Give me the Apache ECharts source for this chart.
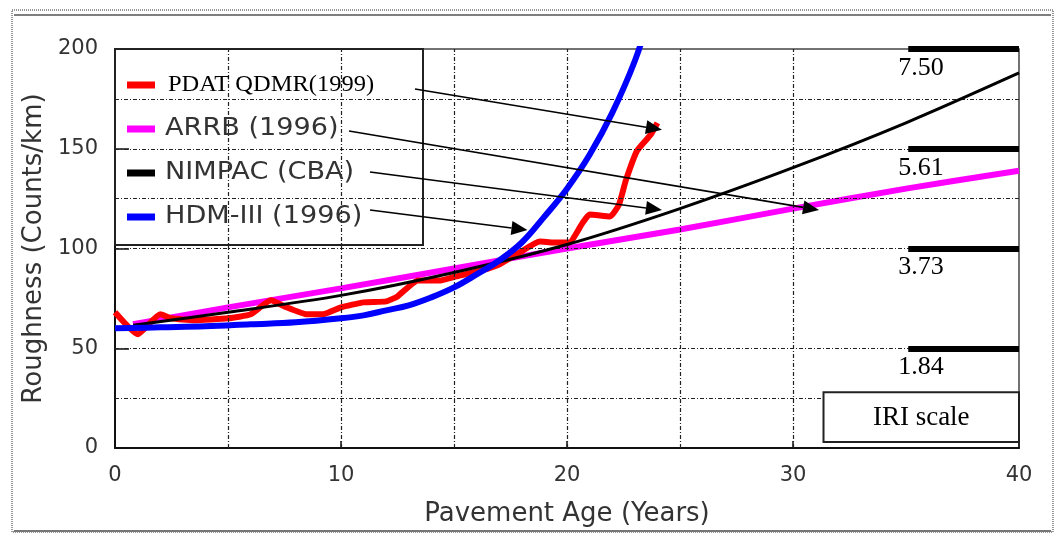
<!DOCTYPE html>
<html>
<head>
<meta charset="utf-8">
<script src="https://cdn.jsdelivr.net/npm/echarts@6/dist/echarts.min.js"></script>
<style>
  html, body { margin: 0; padding: 0; background: #fff; }
  #chart { width: 1056px; height: 534px; }
</style>
</head>
<body>
<div id="chart"></div>
<script>
// Roughness progression models against pavement age
const seriesNames = ['PDAT QDMR(1999)', 'ARRB (1996)', 'NIMPAC (CBA)', 'HDM-III (1996)'];

const pdatAge   = [0, 1, 2, 2.5, 3.5, 5, 6, 6.9, 7.5, 8.5, 9.2, 10, 11, 12, 12.5, 13.4, 14.4, 15.1, 16.2, 17, 17.9, 18.8, 19.4, 20.1, 20.7, 21, 21.9, 22.3, 22.6, 23.1, 23.7, 24];
const pdatRough = [68, 57, 67, 65, 64, 65, 67, 74, 71, 67, 67, 70.5, 73, 73.5, 76, 84, 84, 86, 89, 92, 98, 103.5, 103, 103, 113, 117, 116, 122, 134, 149, 157, 163];

const arrbAge   = [0.8, 5, 10, 15, 20, 25, 30, 35, 40];
const arrbRough = [62, 70.5, 80, 90, 100, 109.5, 120, 130, 139];

const nimpacAge   = [0.8, 5, 10, 15, 20, 25, 30, 35, 40];
const nimpacRough = [61.5, 68, 76.5, 88, 102, 120, 140.5, 163, 188];

const hdmAge   = [0, 2, 4, 6, 8, 10, 11, 12, 13, 14, 15, 16, 17, 18, 19, 20, 21, 22, 23, 23.6];
const hdmRough = [60, 60.5, 61, 62, 63, 65, 66.5, 69, 71.5, 75.5, 80.5, 87, 94, 103, 116, 130, 147, 168, 194, 215];

// IRI equivalents marked at the right-hand side
const iriRough  = [200, 150, 100, 50];
const iriLabels = ['7.50', '5.61', '3.73', '1.84'];

// Axis ticks and dotted reference lines
const xTicks = [0, 10, 20, 30, 40];
const yTicks = [0, 50, 100, 150, 200];
const gridAges  = [5, 10, 15, 20, 25, 30];
const gridRough = [25, 50, 100, 125, 150, 175];

// Where each legend arrow points (age, roughness)
const arrowTargets = [[24.2, 159.5], [31.15, 119.3], [24.2, 119.3], [18.25, 109.3]];

const zip = (xs, ys) => xs.map((x, i) => [x, ys[i]]);

const colors = ['#ff0000', '#ff00ff', '#000000', '#0000ff'];
const SANS = '"DejaVu Sans", sans-serif';
const SERIF = '"Liberation Serif", "Times New Roman", serif';

const chart = echarts.init(document.getElementById('chart'), null, { renderer: 'canvas' });

const option = {
  animation: false,
  backgroundColor: '#fff',
  grid: {
    left: 115, right: 37, top: 49, bottom: 86,
    show: true, borderColor: '#444', borderWidth: 1.5, backgroundColor: 'transparent',
    outerBoundsMode: 'none'
  },
  xAxis: {
    type: 'value', min: xTicks[0], max: xTicks[xTicks.length - 1], interval: 10,
    name: 'Pavement Age (Years)', nameLocation: 'middle', nameGap: 53,
    nameTextStyle: { fontFamily: SANS, fontSize: 26, color: '#333' },
    axisLine: { show: true, onZero: false, lineStyle: { color: '#111', width: 2 } },
    axisTick: { show: true, inside: true, length: 7, lineStyle: { color: '#111', width: 1.5 } },
    axisLabel: { fontFamily: SANS, fontSize: 21, color: '#333', margin: 17 },
    splitLine: { show: false }
  },
  yAxis: {
    type: 'value', min: yTicks[0], max: yTicks[yTicks.length - 1], interval: 50,
    name: 'Roughness (Counts/km)', nameLocation: 'middle', nameGap: 66,
    nameTextStyle: { fontFamily: SANS, fontSize: 26, color: '#333' },
    axisLine: { show: true, onZero: false, lineStyle: { color: '#111', width: 2 } },
    axisTick: { show: true, inside: true, length: 14, lineStyle: { color: '#111', width: 1.5 } },
    axisLabel: { fontFamily: SANS, fontSize: 21, color: '#333', margin: 17 },
    splitLine: { show: false }
  },
  series: [
    {
      name: 'reference lines', type: 'line', data: [], silent: true, z: 1,
      markLine: {
        silent: true, symbol: 'none', animation: false, label: { show: false },
        lineStyle: { color: '#222', width: 1.2, type: [4, 2, 1, 2] },
        data: gridAges.map(v => ({ xAxis: v })).concat(gridRough.map(v => ({ yAxis: v })))
      }
    },
    {
      name: seriesNames[1], type: 'line', data: zip(arrbAge, arrbRough),
      showSymbol: false, smooth: 0.3, z: 3,
      lineStyle: { color: colors[1], width: 6 }
    },
    {
      name: seriesNames[0], type: 'line', data: zip(pdatAge, pdatRough),
      showSymbol: false, smooth: 0.15, z: 4,
      lineStyle: { color: colors[0], width: 6 }
    },
    {
      name: seriesNames[2], type: 'line', data: zip(nimpacAge, nimpacRough),
      showSymbol: false, smooth: 0.3, z: 5,
      lineStyle: { color: colors[2], width: 3 }
    },
    {
      name: seriesNames[3], type: 'line', data: zip(hdmAge, hdmRough),
      showSymbol: false, smooth: 0.4, z: 6, clip: true,
      lineStyle: { color: colors[3], width: 6 }
    },
    {
      name: 'IRI scale', type: 'line', data: [], silent: true, z: 7, clip: false,
      markLine: {
        silent: true, symbol: 'none', animation: false, label: { show: false },
        lineStyle: { color: '#000', width: 6, type: 'solid' },
        data: iriRough.map(v => [{ coord: [35.1, v] }, { coord: [40, v] }])
      }
    }
  ]
};

chart.setOption(option);

// Annotations: legend box, arrows, IRI scale labels and frame
const px = (x, y) => chart.convertToPixel({ gridIndex: 0 }, [x, y]);
const g = [];

// outer page frame
g.push({ type: 'rect', shape: { x: 12, y: 10, width: 1041, height: 522 },
  style: { fill: 'none', stroke: '#333', lineWidth: 1, lineDash: [1, 1] }, z: 1 });
g.push({ type: 'line', shape: { x1: 14, y1: 15, x2: 1051, y2: 15 }, style: { stroke: '#555', lineWidth: 1.5 }, z: 1 });
g.push({ type: 'line', shape: { x1: 14, y1: 531, x2: 1051, y2: 531 }, style: { stroke: '#777', lineWidth: 2 }, z: 1 });

// legend box
const topLeft = px(0, 200);
g.push({ type: 'rect', shape: { x: topLeft[0], y: topLeft[1], width: 308, height: 196 },
  style: { fill: 'none', stroke: '#222', lineWidth: 2 }, z: 20 });

const rowY = [85, 129, 173, 217];
const arrowStart = [[415, 89], [349, 131], [370, 172], [370, 210]];
seriesNames.forEach((name, i) => {
  g.push({ type: 'line', shape: { x1: 127, y1: rowY[i], x2: 155, y2: rowY[i] },
    style: { stroke: colors[i], lineWidth: 7, lineCap: 'butt' }, z: 22 });
  const serif = i === 0;
  g.push({ type: 'text', x: serif ? 168 : 165, y: rowY[i], z: 20,
    scaleX: serif ? 1.02 : 1.13, originX: 0, originY: 0,
    style: { text: name, fill: serif ? '#000' : '#333',
      font: serif ? '24px ' + SERIF : '24px ' + SANS,
      textVerticalAlign: 'middle', verticalAlign: 'middle' } });

  // arrow from legend entry to its curve
  const [x1, y1] = arrowStart[i];
  const [x2, y2] = px(arrowTargets[i][0], arrowTargets[i][1]);
  const ang = Math.atan2(y2 - y1, x2 - x1);
  const L = 16, W = 7;
  const bx = x2 - L * Math.cos(ang), by = y2 - L * Math.sin(ang);
  g.push({ type: 'line', shape: { x1, y1, x2: bx, y2: by },
    style: { stroke: '#000', lineWidth: 1.6 }, z: 21 });
  g.push({ type: 'polygon', z: 21, shape: { points: [
      [x2, y2],
      [bx + W * Math.sin(ang), by - W * Math.cos(ang)],
      [bx - W * Math.sin(ang), by + W * Math.cos(ang)]
    ] }, style: { fill: '#000' } });
});

// IRI values beneath each bar
iriRough.forEach((v, i) => {
  const [bx, by] = px(35.1, v);
  g.push({ type: 'text', x: bx - 10, y: by + 19, z: 20,
    style: { text: iriLabels[i], fill: '#000', font: '26px ' + SERIF,
      textVerticalAlign: 'middle', verticalAlign: 'middle' } });
});

// IRI scale caption box
const boxTL = px(31.35, 28);
const boxBR = px(40, 3);
g.push({ type: 'rect', z: 20, shape: { x: boxTL[0], y: boxTL[1], width: boxBR[0] - boxTL[0], height: boxBR[1] - boxTL[1] },
  style: { fill: '#fff', stroke: '#222', lineWidth: 2 } });
g.push({ type: 'text', z: 21, x: (boxTL[0] + boxBR[0]) / 2, y: (boxTL[1] + boxBR[1]) / 2 + 1,
  style: { text: 'IRI scale', fill: '#000', font: '27px ' + SERIF,
    textAlign: 'center', align: 'center', textVerticalAlign: 'middle', verticalAlign: 'middle' } });

chart.setOption({ graphic: { elements: g } });
</script>
</body>
</html>
